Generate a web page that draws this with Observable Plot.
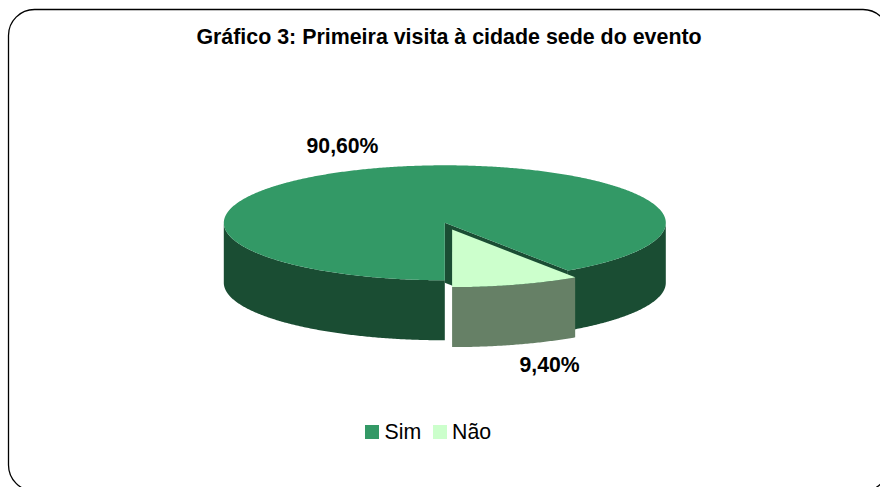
<!DOCTYPE html>
<html><head><meta charset="utf-8">
<script src="https://cdn.jsdelivr.net/npm/d3@7"></script>
<script src="https://cdn.jsdelivr.net/npm/@observablehq/plot@0.6"></script>
<style>html,body{margin:0;padding:0;background:#fff;overflow:hidden}</style>
</head><body><div id="chart"></div>
<script>
const title = "Gráfico 3: Primeira visita à cidade sede do evento";
const categories = ["Sim", "Não"];
const shares = [90.6, 9.4];
const shareLabels = ["90,60%", "9,40%"];

const W = 880, H = 487;
const cx = 444.3, cy = 222.3, rx = 221, ry = 57.5, depth = 60;
const ox = 7.3, oy = 6.8;
const topColors = ["#339966", "#CCFFCC"];
const sideColors = ["#1A4D33", "#668066"];
const wedge = shares[1] / 100 * 360;
const rim = (deg, dx = 0, dy = 0) => {
  const t = deg * Math.PI / 180;
  return {x: cx + dx + rx * Math.sin(t), y: cy + dy + ry * Math.cos(t)};
};
const arc = (a, b, dx = 0, dy = 0) => {
  const n = Math.max(2, Math.ceil(Math.abs(b - a) * 2));
  return d3.range(n + 1).map(i => rim(a + (b - a) * i / n, dx, dy));
};
const wall = (a, b, dx = 0, dy = 0) => [...arc(a, b, dx, dy), ...arc(b, a, dx, dy + depth)];
const shape = (pts, fill) => Plot.line(pts, {x: "x", y: "y", fill, stroke: "none", curve: "linear"});

const plot = Plot.plot({
  width: W, height: H, margin: 0,
  x: {domain: [0, W], range: [0, W], axis: null},
  y: {domain: [0, H], range: [0, H], axis: null},
  style: {background: "#fff", fontFamily: "'Liberation Sans', Arial, sans-serif", color: "#000"},
  marks: [
    Plot.rect([0], {x1: () => 8.5, x2: () => 889, y1: () => 9.5, y2: () => 491, rx: 26, fill: "#fff", stroke: "#000", strokeWidth: 1.3}),
    Plot.text([title], {x: () => 448.5, y: () => 37, text: d => d, fontSize: 21.4, fontWeight: "bold", fill: "#000"}),
    shape(wall(270, 360), sideColors[0]),
    shape(wall(wedge, 90), sideColors[0]),
    shape([{x: cx, y: cy}, rim(wedge), {x: rim(wedge).x, y: rim(wedge).y + depth}, {x: cx, y: cy + depth}], sideColors[0]),
    shape([{x: cx, y: cy}, ...arc(wedge, 360)], topColors[0]),
    shape(wall(0, wedge, ox, oy), sideColors[1]),
    shape([{x: cx + ox, y: cy + oy}, ...arc(0, wedge, ox, oy)], topColors[1]),
    Plot.text(shareLabels, {x: (d, i) => [342, 549][i], y: (d, i) => [146, 365][i], text: d => d, fontSize: 21.2, fontWeight: "bold", fill: "#000"}),
    Plot.rect(categories, {x1: (d, i) => [365, 433][i], x2: (d, i) => [379, 447][i], y1: () => 425, y2: () => 439, fill: (d, i) => topColors[i]}),
    Plot.text(categories, {x: (d, i) => [384, 451.5][i], y: () => 431.5, text: d => d, textAnchor: "start", fontSize: 21.3, fill: "#000"})
  ]
});
document.getElementById("chart").append(plot);
</script></body></html>
